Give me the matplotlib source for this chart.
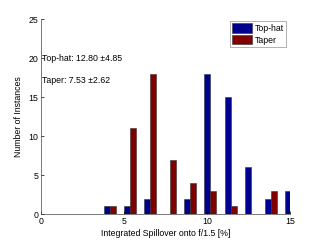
import numpy as np
import matplotlib
matplotlib.use('Agg')
import matplotlib.pyplot as plt

plt.rcParams['font.family'] = ['Liberation Sans', 'DejaVu Sans']

# bin centres of the histogram
bin_centers = [4.14, 5.35, 6.57, 7.78, 9.00, 10.21, 11.43, 12.64, 13.86, 15.07]
tophat = [1, 1, 2, 0, 2, 18, 15, 6, 2, 3]
taper = [1, 11, 18, 7, 4, 3, 1, 0, 3, 0]

tophat_label = 'Top-hat: 12.80 \u00b14.85'
taper_label = 'Taper: 7.53 \u00b12.62'

fs = 6.3
fig = plt.figure(figsize=(3.21, 2.41), dpi=100)
ax = fig.add_axes([0.128, 0.111, 0.775, 0.81])

x = np.array(bin_centers)
w = 0.36
ax.bar(x - w / 2, tophat, w, color='#00008f', edgecolor='#333333', linewidth=0.4, label='Top-hat')
ax.bar(x + w / 2, taper, w, color='#800000', edgecolor='#333333', linewidth=0.4, label='Taper')

ax.set_xlim(0, 15)
ax.set_ylim(0, 25)
ax.set_xticks([0, 5, 10, 15])
ax.set_yticks([0, 5, 10, 15, 20, 25])
ax.tick_params(direction='in', labelsize=fs, length=2, width=0.5, pad=2)
for s in ['top', 'right']:
    ax.spines[s].set_visible(False)
for s in ['left', 'bottom']:
    ax.spines[s].set_linewidth(0.5)
    ax.spines[s].set_color('#444444')

ax.set_xlabel('Integrated Spillover onto f/1.5 [%]', fontsize=fs, labelpad=2)
ax.set_ylabel('Number of Instances', fontsize=fs, labelpad=4)

ax.text(0.05, 20, tophat_label, fontsize=fs, va='center')
ax.text(0.05, 17.1, taper_label, fontsize=fs, va='center')

leg = ax.legend(loc='upper right', bbox_to_anchor=(0.99, 1.0), fontsize=fs, frameon=True,
                fancybox=False, edgecolor='#777777', handlelength=2.2, handleheight=1.3,
                borderpad=0.25, labelspacing=0.25, handletextpad=0.3, borderaxespad=0.2)
leg.get_frame().set_linewidth(0.5)

fig.savefig('out.png', dpi=100)
